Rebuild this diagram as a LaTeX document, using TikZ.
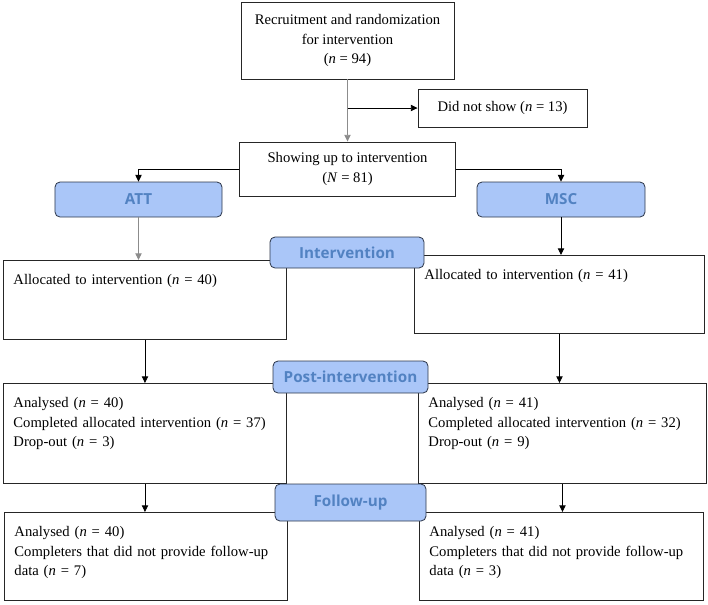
\documentclass[tikz,border=0pt]{standalone}
\usepackage{fontspec}
\setmainfont{Liberation Serif}
\newfontfamily\tagfont{Open Sans}
\usepackage{xcolor}
\definecolor{tagfill}{RGB}{170,198,248}
\definecolor{tagtext}{RGB}{82,130,194}
\definecolor{tagline}{RGB}{45,55,75}
\usepackage{tikz}
\usetikzlibrary{arrows.meta, positioning}

\begin{document}
\begin{tikzpicture}[
  x=0.03cm, y=-0.03cm,
  box/.style={draw=black!85, line width=0.8pt, align=center,
    font=\fontsize{12.5}{17}\selectfont},
  listbox/.style={draw=black!85, line width=0.8pt, anchor=north west, align=left,
    inner xsep=0.3cm, inner ysep=0.4cm, text height=0.33cm,
    font=\fontsize{12.5}{16.5}\selectfont},
  tag/.style={draw=tagline, line width=0.7pt, fill=tagfill, rounded corners=0.15cm,
    text=tagtext, font=\tagfont\bfseries\fontsize{13}{15}\selectfont},
  arrow/.style={-{Triangle[length=2mm, width=1.9mm]}, line width=0.7pt},
  grey/.style={draw=black!45}
]

\useasboundingbox (0,0) rectangle (708,604);

% Nodes
\node[box, minimum width=6.39cm, minimum height=2.31cm] (recruit) at (347.5,40.5)
  {Recruitment and randomization\\for intervention\\(\textit{n} = 94)};
\node[box, minimum width=5.07cm, minimum height=1.14cm] (noshow) at (502.5,108)
  {Did not show (\textit{n} = 13)};
\node[box, minimum width=6.48cm, minimum height=1.62cm] (show) at (347.5,169)
  {Showing up to intervention\\(\textit{N} = 81)};

\node[tag, minimum width=5.01cm, minimum height=1.05cm] (att) at (138.5,199.5) {ATT};
\node[tag, minimum width=5.04cm, minimum height=1.05cm] (msc) at (561,199.5) {MSC};

\node[listbox, text width=7.89cm, text depth=1.24cm] (alloc1) at (3,260)
  {Allocated to intervention (\textit{n} = 40)};
\node[listbox, text width=8.1cm, text depth=1.21cm] (alloc2) at (414,255)
  {Allocated to intervention (\textit{n} = 41)};

\node[listbox, text width=7.89cm, text depth=1.87cm] (post1) at (3,383)
  {Analysed (\textit{n} = 40)\\Completed allocated intervention (\textit{n} = 37)\\Drop-out (\textit{n} = 3)};
\node[listbox, text width=8.04cm, text depth=1.87cm] (post2) at (418,383)
  {Analysed (\textit{n} = 41)\\Completed allocated intervention (\textit{n} = 32)\\Drop-out (\textit{n} = 9)};

\node[listbox, text width=7.89cm, text depth=1.51cm] (fu1) at (4,512)
  {Analysed (\textit{n} = 40)\\Completers that did not provide follow-up\\data (\textit{n} = 7)};
\node[listbox, text width=7.92cm, text depth=1.51cm] (fu2) at (419,512)
  {Analysed (\textit{n} = 41)\\Completers that did not provide follow-up\\data (\textit{n} = 3)};

% Stage tags
\node[tag, minimum width=4.62cm, minimum height=0.93cm] (interv) at (347,252.5) {Intervention};
\node[tag, minimum width=4.65cm, minimum height=0.96cm] (postint) at (350.5,377) {Post-intervention};
\node[tag, minimum width=4.53cm, minimum height=1.11cm] (follow) at (350.5,502.5) {Follow-up};

% Pointers
\draw[arrow, grey] (recruit) -- (show);
\draw[arrow] (recruit.south |- noshow.west) -- (noshow.west);
\draw[arrow] (show.west) -| (att.north);
\draw[arrow] (show.east) -| (msc.north);
\draw[arrow, grey] (att.south) -- (att.south |- alloc1.north);
\draw[arrow] (msc.south) -- (msc.south |- alloc2.north);
\draw[arrow] (alloc1.south) -- (alloc1.south |- post1.north);
\draw[arrow] (alloc2.south) -- (alloc2.south |- post2.north);
\draw[arrow] (post1.south) -- (post1.south |- fu1.north);
\draw[arrow] (post2.south) -- (post2.south |- fu2.north);

\end{tikzpicture}
\end{document}
